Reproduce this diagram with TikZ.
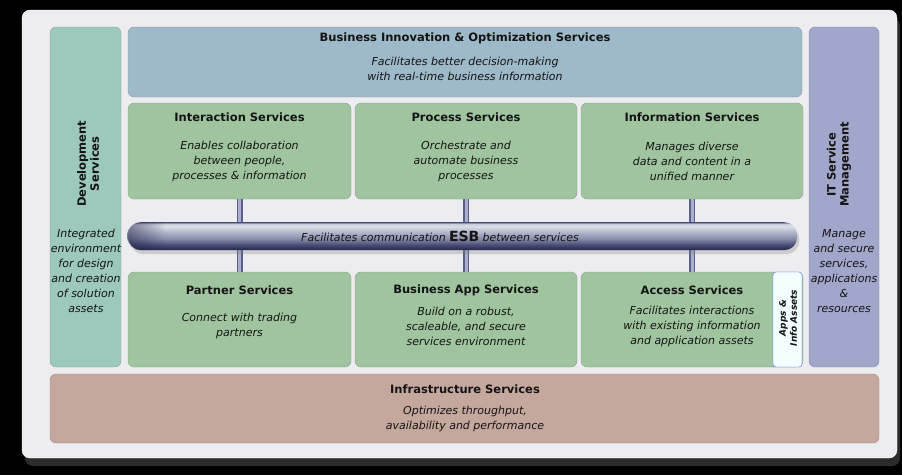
\documentclass[tikz,border=0pt]{standalone}
\usepackage{fontspec}
\setmainfont{DejaVu Sans}
\usetikzlibrary{shadows,fadings}
\definecolor{panel}{HTML}{EDEDF1}
\definecolor{bizblue}{HTML}{9EB9C7}
\definecolor{svcgreen}{HTML}{A1C4A0}
\definecolor{devteal}{HTML}{9DC8BD}
\definecolor{itlilac}{HTML}{A1A7CA}
\definecolor{infrabrown}{HTML}{C5A89D}
\definecolor{appswhite}{HTML}{F2FEFF}
\definecolor{txt}{HTML}{141414}
\definecolor{pipeedge}{HTML}{5A6088}
\definecolor{pipemid}{HTML}{A8AECB}
\definecolor{busdark}{HTML}{22264A}
\definecolor{busA}{HTML}{4A4F78}
\definecolor{busB}{HTML}{8A8FAB}
\definecolor{busC}{HTML}{B5B9CC}
\definecolor{busD}{HTML}{DCDEE8}
\definecolor{busE}{HTML}{C8CBDB}
\definecolor{busF}{HTML}{555A85}
\pgfdeclareverticalshading{esbshade}{100bp}{color(0bp)=(busdark); color(25bp)=(busdark);
  color(35bp)=(busA); color(46bp)=(busB); color(58bp)=(busC);
  color(68bp)=(busD); color(72bp)=(busE); color(75bp)=(busF); color(100bp)=(busF)}

\begin{document}
\begin{tikzpicture}[x=1pt,y=-1pt,
    box/.style={draw=#1!85!black,fill=#1,rounded corners=6pt,anchor=north west,inner sep=0pt,outer sep=0pt},
    title/.style={font=\bfseries\fontsize{11.5}{13}\selectfont,text=txt},
    desc/.style={font=\itshape\fontsize{11}{15}\selectfont,align=center,text=txt},
    vtitle/.style={title,rotate=90,align=center,anchor=west,inner sep=0pt},
    pipe/.style={draw=pipeedge,line width=1.5pt,double=pipemid,double distance=3pt}]
    \useasboundingbox (0,0) rectangle (902,475);
    \fill[black] (0,0) rectangle (902,475);
    % panel
    \node[box=panel,draw=white,rounded corners=8pt,minimum width=875pt,minimum height=448pt,
        drop shadow={opacity=0.35,shadow xshift=3pt,shadow yshift=-8pt}] (frame) at (22,10) {};
    % side columns
    \node[box=devteal,minimum width=71pt,minimum height=340pt] (dev) at (50,27) {};
    \node[box=itlilac,minimum width=70pt,minimum height=340pt] (itsm) at (809,27) {};
    \node[box=bizblue,minimum width=674pt,minimum height=70pt] (biz) at (128,27) {};
    % upper row
    \node[box=svcgreen,minimum width=223pt,minimum height=96pt] (inter) at (128,103) {};
    \node[box=svcgreen,minimum width=222pt,minimum height=96pt] (proc) at (355,103) {};
    \node[box=svcgreen,minimum width=222pt,minimum height=96pt] (info) at (581,103) {};
    % lower row
    \node[box=svcgreen,minimum width=223pt,minimum height=95pt] (partner) at (128,272) {};
    \node[box=svcgreen,minimum width=222pt,minimum height=95pt] (bizapp) at (355,272) {};
    \node[box=svcgreen,minimum width=222pt,minimum height=95pt] (access) at (581,272) {};
    \node[box=appswhite,draw=blue!60!white,rounded corners=3pt,minimum width=29pt,minimum height=95pt] (apps) at (773,272) {};
    \node[box=infrabrown,minimum width=829pt,minimum height=69pt] (infra) at (50,374) {};
    % pipes to the bus
    \draw[pipe] (inter.south) -- (inter.south |- 0,222);
    \draw[pipe] (proc.south) -- (proc.south |- 0,222);
    \draw[pipe] (info.south) -- (info.south |- 0,222);
    \draw[pipe] (partner.north) -- (partner.north |- 0,250);
    \draw[pipe] (bizapp.north) -- (bizapp.north |- 0,250);
    \draw[pipe] (access.north) -- (access.north |- 0,250);
    % bus
    \node[anchor=north west,inner sep=0pt,minimum width=669pt,minimum height=28pt,rounded corners=13pt,
        shading=esbshade,drop shadow={opacity=0.3,shadow xshift=2pt,shadow yshift=-4pt}] (esb) at (128,222) {};
    \fill[busdark,fill opacity=0.55,path fading=east] (141,222) -- (165,222) -- (165,250) -- (141,250)
        arc[start angle=90,end angle=270,radius=14] -- cycle;
    \node[text=txt] (esbT) at (440,236) {{\itshape\fontsize{11}{13}\selectfont Facilitates communication}
        {\bfseries\fontsize{14}{14}\selectfont ESB} {\itshape\fontsize{11}{13}\selectfont between services}};
    % texts
    \node[title] (bizT) at (465,38) {Business Innovation \& Optimization Services};
    \node[desc] (bizD) at (465,69) {Facilitates better decision-making\\with real-time business information};
    \node[title] (interT) at (239.5,117) {Interaction Services};
    \node[desc] (interD) at (239.5,161) {Enables collaboration\\between people,\\processes \& information};
    \node[title] (procT) at (466,117) {Process Services};
    \node[desc] (procD) at (466,161) {Orchestrate and\\automate business\\processes};
    \node[title] (infoT) at (692,117) {Information Services};
    \node[desc] (infoD) at (692,161) {Manages diverse\\data and content in a\\unified manner};
    \node[title] (partnerT) at (239.5,290) {Partner Services};
    \node[desc] (partnerD) at (239.5,326) {Connect with trading\\partners};
    \node[title] (bizappT) at (466,290) {Business App Services};
    \node[desc] (bizappD) at (466,326) {Build on a robust,\\scaleable, and secure\\services environment};
    \node[title] (accessT) at (692,290) {Access Services};
    \node[desc] (accessD) at (692,326) {Facilitates interactions\\with existing information\\and application assets};
    \node[title,font=\bfseries\itshape\fontsize{9}{11}\selectfont,rotate=90,align=center] (appsT) at (788,318) {Apps \&\\Info Assets};
    \node[title] (infraT) at (465,389) {Infrastructure Services};
    \node[desc] (infraD) at (465,418.5) {Optimizes throughput,\\availability and performance};
    \node[vtitle] (devT) at (88,207) {Development\\Services};
    \node[desc] (devD) at (86,271) {Integrated\\environment\\for design\\and creation\\of solution\\assets};
    \node[vtitle] (itsmT) at (839,207) {IT Service\\Management};
    \node[desc] (itsmD) at (844,271) {Manage\\and secure\\services,\\applications\\\&\\resources};
\end{tikzpicture}
\end{document}
